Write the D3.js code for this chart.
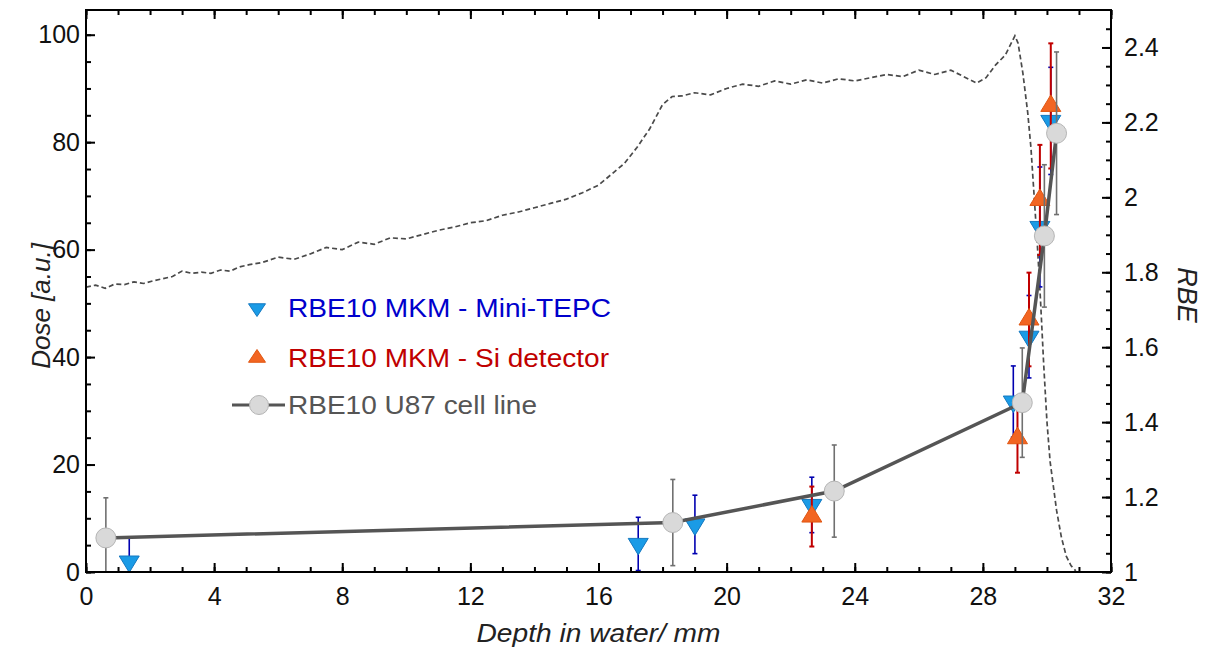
<!DOCTYPE html>
<html>
<head>
<meta charset="utf-8">
<title>RBE vs depth</title>
<script src="https://cdn.jsdelivr.net/npm/d3@7"></script>
<style>
body{margin:0;background:#fff;}
text{font-family:Arial,"Liberation Sans",sans-serif;}
</style>
</head>
<body>
<div id="chart"></div>
<script>
var W=1222,H=649;
var pLeft=86,pRight=1111,pTop=10,pBottom=572;

// depth-dose profile (left axis)
var doseDepth=[0,0.3,0.6,0.9,1.2,1.5,1.8,2.1,2.4,2.7,3.0,3.3,3.6,3.9,4.2,4.5,4.8,5.1,5.5,6.0,6.5,7.0,7.5,8.0,8.5,9.0,9.5,10.0,10.5,11.0,11.5,12.0,12.5,13.0,13.5,14.0,14.5,15.0,15.5,16.0,16.4,16.8,17.2,17.6,18.0,18.3,18.6,19.0,19.5,20.0,20.5,21.0,21.5,22.0,22.5,23.0,23.5,24.0,24.5,25.0,25.5,26.0,26.5,27.0,27.4,27.8,28.1,28.4,28.7,29.0,29.1,29.25,29.4,29.5,29.6,29.7,29.8,29.9,30.0,30.1,30.2,30.3,30.45,30.6,30.75,30.9];
var doseValue=[53.0,53.4,52.8,53.6,53.5,54.0,53.7,54.2,54.6,55.0,56.0,55.6,55.8,55.6,56.2,56.0,56.8,57.2,57.6,58.6,58.2,59.2,60.4,60.0,61.4,61.0,62.2,62.0,62.8,63.6,64.2,65.0,65.4,66.4,67.0,67.8,68.6,69.4,70.6,72.0,74.0,76.0,79.0,82.5,87.0,88.5,88.6,89.2,88.8,90.0,90.8,90.4,91.4,90.8,91.6,91.0,91.8,91.4,92.0,92.6,92.2,93.4,92.6,93.4,92.2,91.0,92.0,94.4,96.2,99.8,98.4,92.8,85.5,79.0,70.0,61.0,50.5,38.5,28.0,20.5,16.0,11.5,6.5,3.0,1.2,0.2];

// RBE10 MKM - Mini-TEPC
var tepcDepth=[1.35,17.24,19.01,22.66,28.95,29.44,29.78,30.12];
var tepcRbe=[1.028,1.075,1.127,1.179,1.455,1.628,1.921,2.204];
var tepcErr=[0.063,0.071,0.078,0.074,0.095,0.11,0.16,0.143];

// RBE10 MKM - Si detector
var siDepth=[22.66,29.08,29.44,29.78,30.12];
var siRbe=[1.148,1.357,1.674,1.993,2.244];
var siErr=[0.08,0.092,0.125,0.147,0.167];

// RBE10 U87 cell line
var u87Depth=[0.62,18.32,23.36,29.23,29.92,30.30];
var u87Rbe=[1.091,1.132,1.216,1.452,1.897,2.171];
var u87Err=[0.107,0.115,0.123,0.146,0.19,0.217];

var xTicks=[0,4,8,12,16,20,24,28,32];
var doseTicks=[0,20,40,60,80,100];
var rbeTicks=[1,1.2,1.4,1.6,1.8,2,2.2,2.4];
var rbeTickLabels=['1','1.2','1.4','1.6','1.8','2','2.2','2.4'];
var legendLabels=['RBE10 MKM - Mini-TEPC','RBE10 MKM - Si detector','RBE10 U87 cell line'];

var x=d3.scaleLinear().domain([0,32]).range([pLeft,pRight]);
var yDose=d3.scaleLinear().domain([0,104.6]).range([pBottom,pTop]);
var yRbe=d3.scaleLinear().domain([1,2.5]).range([pBottom,pTop]);

var svg=d3.select('#chart').append('svg').attr('width',W).attr('height',H);

svg.append('defs').append('clipPath').attr('id','clip')
  .append('rect').attr('x',pLeft).attr('y',pTop).attr('width',pRight-pLeft).attr('height',pBottom-pTop);

var plot=svg.append('g').attr('clip-path','url(#clip)');

//虛線劑量曲線
var doseLine=d3.line().x(function(d){return x(d[0]);}).y(function(d){return yDose(d[1]);});
plot.append('path')
  .datum(d3.zip(doseDepth,doseValue))
  .attr('d',doseLine)
  .attr('fill','none')
  .attr('stroke','#4a4a4a')
  .attr('stroke-width',1.7)
  .attr('stroke-dasharray','5,3');

function errorBars(depth,val,err,color,w){
  var g=plot.append('g');
  depth.forEach(function(d,i){
    var x0=x(d),y1=yRbe(val[i]+err[i]),y2=yRbe(val[i]-err[i]);
    g.append('line').attr('x1',x0).attr('x2',x0).attr('y1',y1).attr('y2',y2)
      .attr('stroke',color).attr('stroke-width',w);
    [y1,y2].forEach(function(yy){
      g.append('line').attr('x1',x0-2.5).attr('x2',x0+2.5).attr('y1',yy).attr('y2',yy)
        .attr('stroke',color).attr('stroke-width',w);
    });
  });
}

function triPath(s,hf,down){
  // 三角形：寬2s，高 s*hf
  var h=s*hf,a=h/3,b=2*h/3;
  if(down) return 'M'+(-s)+','+(-a)+'L'+s+','+(-a)+'L0,'+b+'Z';
  return 'M'+(-s)+','+a+'L'+s+','+a+'L0,'+(-b)+'Z';
}

// Mini-TEPC
errorBars(tepcDepth,tepcRbe,tepcErr,'#0000b0',1.6);
plot.append('g').selectAll('path').data(d3.range(tepcDepth.length)).enter().append('path')
  .attr('d',triPath(10,1.65,true))
  .attr('transform',function(i){return 'translate('+x(tepcDepth[i])+','+yRbe(tepcRbe[i])+')';})
  .attr('fill','#1a9be6').attr('stroke','#1478c0').attr('stroke-width',1);

// Si detector
errorBars(siDepth,siRbe,siErr,'#c00000',2);
plot.append('g').selectAll('path').data(d3.range(siDepth.length)).enter().append('path')
  .attr('d',triPath(10,1.65,false))
  .attr('transform',function(i){return 'translate('+x(siDepth[i])+','+yRbe(siRbe[i])+')';})
  .attr('fill','#f26522').attr('stroke','#e05510').attr('stroke-width',1);

// U87
errorBars(u87Depth,u87Rbe,u87Err,'#707070',1.6);
plot.append('path')
  .datum(d3.zip(u87Depth,u87Rbe))
  .attr('d',d3.line().x(function(d){return x(d[0]);}).y(function(d){return yRbe(d[1]);}))
  .attr('fill','none').attr('stroke','#555').attr('stroke-width',3.5);
plot.append('g').selectAll('circle').data(d3.range(u87Depth.length)).enter().append('circle')
  .attr('cx',function(i){return x(u87Depth[i]);})
  .attr('cy',function(i){return yRbe(u87Rbe[i]);})
  .attr('r',10)
  .attr('fill','#d9d9d9').attr('stroke','#b5b5b5').attr('stroke-width',1);

//軸
function minorVals(a,b,step){
  var arr=[];
  for(var v=a;v<=b+1e-9;v+=step){arr.push(+v.toFixed(3));}
  return arr;
}

function drawAxis(axis,tx,ty,major,minor,fmt,pad){
  var g1=svg.append('g').attr('transform','translate('+tx+','+ty+')')
    .call(axis(major).tickSize(-9).tickPadding(pad).tickFormat(fmt));
  var g2=svg.append('g').attr('transform','translate('+tx+','+ty+')')
    .call(axis(minor).tickSize(-5).tickFormat(''));
  [g1,g2].forEach(function(g){
    g.select('.domain').remove();
    g.selectAll('line').attr('stroke','#000').attr('stroke-width',2);
    g.selectAll('text').attr('font-size',25).attr('font-family','Arial,"Liberation Sans",sans-serif').attr('fill','#111');
  });
  return g1;
}

drawAxis(function(v){return d3.axisBottom(x).tickValues(v);},0,pBottom,xTicks,minorVals(0,32,1),d3.format('d'),15);
drawAxis(function(v){return d3.axisTop(x).tickValues(v);},0,pTop,xTicks,minorVals(0,32,1),function(){return '';},0);
drawAxis(function(v){return d3.axisLeft(yDose).tickValues(v);},pLeft,0,doseTicks,minorVals(0,100,5),d3.format('d'),6);
drawAxis(function(v){return d3.axisRight(yRbe).tickValues(v);},pRight,0,rbeTicks,minorVals(1,2.45,0.05),function(d,i){return rbeTickLabels[i];},13);

svg.append('rect').attr('x',pLeft).attr('y',pTop).attr('width',pRight-pLeft).attr('height',pBottom-pTop)
  .attr('fill','none').attr('stroke','#000').attr('stroke-width',2);

//軸標題
svg.append('text').attr('x',(pLeft+pRight)/2).attr('y',642).attr('text-anchor','middle')
  .attr('font-size',26).attr('font-style','italic').attr('fill','#222')
  .attr('textLength',244).attr('lengthAdjust','spacingAndGlyphs').text('Depth in water/ mm');
svg.append('text').attr('transform','translate(50,306) rotate(-90)').attr('text-anchor','middle')
  .attr('font-size',26).attr('font-style','italic').attr('fill','#222').text('Dose [a.u.]');
svg.append('text').attr('transform','translate(1178,295) rotate(90)').attr('text-anchor','middle')
  .attr('font-size',27).attr('font-style','italic').attr('fill','#222').text('RBE');

//圖例
var leg=svg.append('g');
var legColors=['#0000cc','#c00000','#555'];
var legY=[308,358,405];
var legWidth=[323,321,249];
legendLabels.forEach(function(t,i){
  leg.append('text').attr('x',288).attr('y',legY[i]+9).attr('font-size',25)
    .attr('textLength',legWidth[i]).attr('lengthAdjust','spacingAndGlyphs')
    .attr('fill',legColors[i]).text(t);
});
leg.append('path').attr('d',triPath(8.5,1.5,true)).attr('transform','translate(257,'+legY[0]+')')
  .attr('fill','#1a9be6').attr('stroke','#1478c0');
leg.append('path').attr('d',triPath(8.5,1.5,false)).attr('transform','translate(257,'+legY[1]+')')
  .attr('fill','#f26522').attr('stroke','#e05510');
leg.append('line').attr('x1',232).attr('x2',285).attr('y1',legY[2]).attr('y2',legY[2])
  .attr('stroke','#555').attr('stroke-width',3);
leg.append('circle').attr('cx',259).attr('cy',legY[2]).attr('r',9.5)
  .attr('fill','#d9d9d9').attr('stroke','#b5b5b5');
</script>
</body>
</html>
